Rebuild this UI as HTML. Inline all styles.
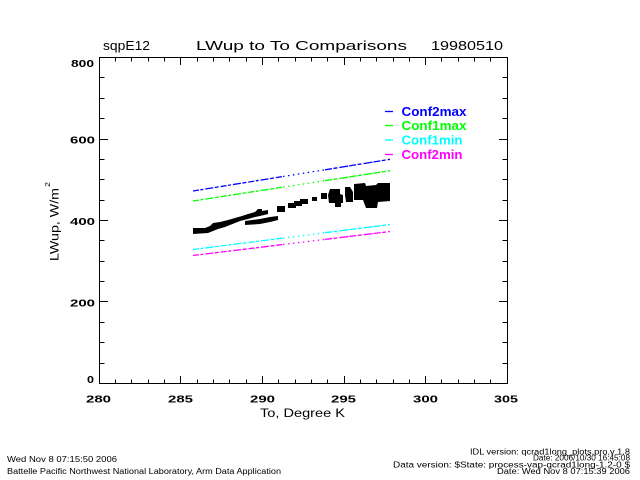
<!DOCTYPE html>
<html>
<head>
<meta charset="utf-8">
<style>
html,body{margin:0;padding:0;background:#fff;}
svg{display:block;}
text{font-family:"Liberation Sans",sans-serif;fill:#000;}
</style>
</head>
<body>
<svg width="640" height="480" viewBox="0 0 640 480" xmlns="http://www.w3.org/2000/svg">
<rect x="0" y="0" width="640" height="480" fill="#fff"/>

<!-- Titles -->
<text x="103" y="50" font-size="13" textLength="47" lengthAdjust="spacingAndGlyphs">sqpE12</text>
<text x="196" y="50" font-size="13" textLength="211" lengthAdjust="spacingAndGlyphs">LWup to To Comparisons</text>
<text x="431" y="50" font-size="13" textLength="72" lengthAdjust="spacingAndGlyphs">19980510</text>

<!-- Axis box -->
<rect x="99.5" y="57.5" width="408" height="326" fill="none" stroke="#000" stroke-width="1"/>

<!-- X ticks bottom & top -->
<g stroke="#000" stroke-width="1" fill="none">
<path d="M99.5 383V376 M180.5 383V376 M262.5 383V376 M344.5 383V376 M425.5 383V376 M507.5 383V376
M115.5 383V379.5 M131.5 383V379.5 M148.5 383V379.5 M164.5 383V379.5
M197.5 383V379.5 M213.5 383V379.5 M229.5 383V379.5 M246.5 383V379.5
M278.5 383V379.5 M295.5 383V379.5 M311.5 383V379.5 M327.5 383V379.5
M360.5 383V379.5 M376.5 383V379.5 M393.5 383V379.5 M409.5 383V379.5
M441.5 383V379.5 M458.5 383V379.5 M474.5 383V379.5 M490.5 383V379.5"/>
<path d="M99.5 58V65 M180.5 58V65 M262.5 58V65 M344.5 58V65 M425.5 58V65 M507.5 58V65
M115.5 58V61.5 M131.5 58V61.5 M148.5 58V61.5 M164.5 58V61.5
M197.5 58V61.5 M213.5 58V61.5 M229.5 58V61.5 M246.5 58V61.5
M278.5 58V61.5 M295.5 58V61.5 M311.5 58V61.5 M327.5 58V61.5
M360.5 58V61.5 M376.5 58V61.5 M393.5 58V61.5 M409.5 58V61.5
M441.5 58V61.5 M458.5 58V61.5 M474.5 58V61.5 M490.5 58V61.5"/>
<!-- Y ticks left -->
<path d="M100 383.5H108 M100 301.5H108 M100 220.5H108 M100 139.5H108 M100 57.5H108
M100 363.5H104.5 M100 342.5H104.5 M100 322.5H104.5
M100 281.5H104.5 M100 261.5H104.5 M100 240.5H104.5
M100 200.5H104.5 M100 179.5H104.5 M100 159.5H104.5
M100 118.5H104.5 M100 98.5H104.5 M100 77.5H104.5"/>
<!-- Y ticks right -->
<path d="M507 383.5H499 M507 301.5H499 M507 220.5H499 M507 139.5H499 M507 57.5H499
M507 363.5H502.5 M507 342.5H502.5 M507 322.5H502.5
M507 281.5H502.5 M507 261.5H502.5 M507 240.5H502.5
M507 200.5H502.5 M507 179.5H502.5 M507 159.5H502.5
M507 118.5H502.5 M507 98.5H502.5 M507 77.5H502.5"/>
</g>

<!-- Y tick labels -->
<g font-size="10.5" font-weight="bold">
<text x="71" y="67" textLength="23" lengthAdjust="spacingAndGlyphs">800</text>
<text x="70" y="143.5" textLength="25" lengthAdjust="spacingAndGlyphs">600</text>
<text x="70" y="225" textLength="25" lengthAdjust="spacingAndGlyphs">400</text>
<text x="70" y="306.5" textLength="25" lengthAdjust="spacingAndGlyphs">200</text>
<text x="87" y="383" textLength="7" lengthAdjust="spacingAndGlyphs">0</text>
</g>

<!-- X tick labels -->
<g font-size="10.5" font-weight="bold">
<text x="86" y="402.7" textLength="25" lengthAdjust="spacingAndGlyphs">280</text>
<text x="168" y="402.7" textLength="25" lengthAdjust="spacingAndGlyphs">285</text>
<text x="250" y="402.7" textLength="25" lengthAdjust="spacingAndGlyphs">290</text>
<text x="331" y="402.7" textLength="25" lengthAdjust="spacingAndGlyphs">295</text>
<text x="413" y="402.7" textLength="25" lengthAdjust="spacingAndGlyphs">300</text>
<text x="494" y="402.7" textLength="24" lengthAdjust="spacingAndGlyphs">305</text>
</g>

<!-- Axis titles -->
<text x="260" y="417" font-size="11.5" textLength="85" lengthAdjust="spacingAndGlyphs">To, Degree K</text>
<text transform="translate(58.5,261) rotate(-90)" x="0" y="0" font-size="11.5" textLength="73" lengthAdjust="spacingAndGlyphs">LWup, W/m</text>
<text transform="translate(50,187) rotate(-90)" x="0" y="0" font-size="7" textLength="5" lengthAdjust="spacingAndGlyphs">2</text>

<!-- Series lines -->
<g fill="none" stroke-width="1.3">
  <path d="M193 191 L283 176.5" stroke="#0000ff" stroke-dasharray="6 1.5 3 2 8 1.5 4 2"/>
  <path d="M283 176.5 L325 169.8" stroke="#0000ff" stroke-dasharray="1.5 3.5"/>
  <path d="M325 169.8 L390 159.3" stroke="#0000ff" stroke-dasharray="7 1.5 4 2 9 1"/>
  <path d="M193 201 L283 187.1" stroke="#00ff00" stroke-dasharray="6 1.5 3 2 8 1.5 4 2"/>
  <path d="M283 187.1 L325 180.7" stroke="#00ff00" stroke-dasharray="1.5 3.5"/>
  <path d="M325 180.7 L390 170.7" stroke="#00ff00" stroke-dasharray="7 1.5 4 2 9 1"/>
  <path d="M193 249.5 L283 238.1" stroke="#00ffff" stroke-dasharray="6 1.5 3 2 8 1.5 4 2"/>
  <path d="M283 238.1 L325 232.7" stroke="#00ffff" stroke-dasharray="1.5 3.5"/>
  <path d="M325 232.7 L390 224.5" stroke="#00ffff" stroke-dasharray="7 1.5 4 2 9 1"/>
  <path d="M193 255.5 L283 244.5" stroke="#ff00ff" stroke-dasharray="6 1.5 3 2 8 1.5 4 2"/>
  <path d="M283 244.5 L325 239.4" stroke="#ff00ff" stroke-dasharray="1.5 3.5"/>
  <path d="M325 239.4 L390 231.5" stroke="#ff00ff" stroke-dasharray="7 1.5 4 2 9 1"/>
</g>

<!-- Black data -->
<g fill="#000" stroke="none">
  <polygon points="193,228 205,228 210,226 213,223 220,222 228,220 235,218 242,216 248,214 255,212 258,209 262,209 262,211 268,210 268,214 260,216 255,217 248,219 240,221 235,223 230,225 225,227 218,229 213,231 208,233 193,234"/>
  <polygon points="245,221 260,219 270,217 278,216 278,220 270,222 260,224 245,225"/>
  <rect x="277" y="206" width="8" height="6"/>
  <rect x="288" y="203" width="8" height="5"/>
  <rect x="294" y="201" width="8" height="5"/>
  <rect x="300" y="199" width="8" height="5"/>
  <rect x="312" y="197" width="5" height="4"/>
  <rect x="321" y="193" width="6" height="6"/>
  <polygon points="330,189 340,189 340,194 343,195 343,203 341,203 341,207 335,207 335,203 329,203 328,195"/>
  <polygon points="345,187 350,187 353,192 353,202 346,202 345,195"/>
  <polygon points="354,184 365,183 366,186 376,185 378,183 390,183 390,201 378,202 377,208 366,208 363,200 354,200"/>
</g>

<!-- Legend -->
<g stroke-width="1.3">
  <line x1="385" y1="111.5" x2="393" y2="111.5" stroke="#0000ff"/>
  <line x1="385" y1="125.5" x2="393" y2="125.5" stroke="#00ff00"/>
  <line x1="385" y1="140" x2="393" y2="140" stroke="#00ffff"/>
  <line x1="385" y1="154.5" x2="393" y2="154.5" stroke="#ff00ff"/>
</g>
<g font-size="12.5" font-weight="bold">
  <text x="401.5" y="116" textLength="65" lengthAdjust="spacingAndGlyphs" style="fill:#0000ff">Conf2max</text>
  <text x="401.5" y="130" textLength="65" lengthAdjust="spacingAndGlyphs" style="fill:#00ff00">Conf1max</text>
  <text x="401.5" y="144.5" textLength="61" lengthAdjust="spacingAndGlyphs" style="fill:#00ffff">Conf1min</text>
  <text x="401.5" y="158.8" textLength="61" lengthAdjust="spacingAndGlyphs" style="fill:#ff00ff">Conf2min</text>
</g>

<!-- Footer -->
<g font-size="8">
  <text x="7" y="462" textLength="110" lengthAdjust="spacingAndGlyphs">Wed Nov  8 07:15:50 2006</text>
  <text x="7" y="474" textLength="274" lengthAdjust="spacingAndGlyphs">Battelle Pacific Northwest National Laboratory, Arm Data Application</text>
  <text x="470" y="454.5" textLength="160" lengthAdjust="spacingAndGlyphs">IDL version: qcrad1long_plots.pro,v 1.8</text>
  <text x="533" y="460.5" textLength="97" lengthAdjust="spacingAndGlyphs">Date: 2006/10/30 16:45:08</text>
  <text x="393" y="467.5" textLength="237" lengthAdjust="spacingAndGlyphs">Data version: $State: process-vap-qcrad1long-1.2-0 $</text>
  <text x="497" y="474" textLength="133" lengthAdjust="spacingAndGlyphs">Date: Wed Nov  8 07:15:39 2006</text>
</g>
</svg>
</body>
</html>
